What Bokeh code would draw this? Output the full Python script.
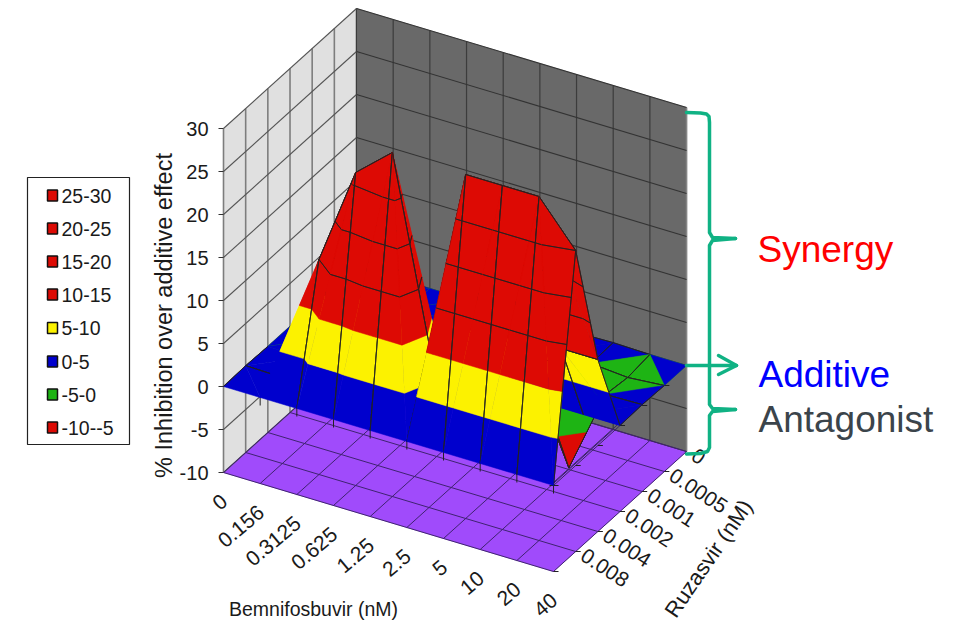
from bokeh.plotting import figure
from bokeh.models import Range1d, ColumnDataSource
from bokeh.core.properties import value
from bokeh.embed import file_html
from bokeh.resources import INLINE
import math

# ---- data ----
bemnifosbuvir = ["0", "0.156", "0.3125", "0.625", "1.25", "2.5", "5", "10", "20", "40"]
ruzasvir = ["", "0.008", "0.004", "0.002", "0.001", "0.0005", "0"]   # front to back
z_ticks = [-10, -5, 0, 5, 10, 15, 20, 25, 30]
legend_labels = ["25-30", "20-25", "15-20", "10-15", "5-10", "0-5", "-5-0", "-10--5"]
row0 = [0, 0, 0, 0, 0, 0, 0, 0, 0, 0]
row1 = [0.1, 0, 15, 26.4, 30, 9, 30, 30, 30, 25]
row2 = [0, 0, 0, 0, 0, 0, 0, 5, 10, 10]
row3 = [0, 0, 0, 0, 0, 0, 0, 0, 0, 0]
row4 = [0, 0, 0, 0, 0, 0, 0, -9.8, 0, 0.1]
row5 = [0, 0, 0, 0, 0, 0, 0, 0, -0.35, 0]
row6 = [0, 0, 0, 0, 0, 0, 0, 0.1, 0, 0]
Z = [row0, row1, row2, row3, row4, row5, row6]

RED, YEL, BLU, GRN = "#dd0a04", "#fcf200", "#0000cd", "#1eb414"
band_cols = [RED, GRN, BLU, YEL, RED, RED, RED, RED]
legend_cols = [RED, RED, RED, RED, YEL, BLU, GRN, RED]
PURPLE, LWALL, BWALL = "#a04bfb", "#e0e0e0", "#696969"
MESH = "#222222"
BRACE = "#10b284"
FONT = value("Liberation Sans")

NC, NR = len(bemnifosbuvir), len(ruzasvir)


def P(c, r, z):
    """oblique projection of the chart's 3D axes on the page"""
    return (223 + 36.67 * c + 22.17 * r, 472 + 11.0 * c - 20.0 * r - 8.6 * (z + 10))


p = figure(width=951, height=625, x_range=Range1d(0, 951), y_range=Range1d(625, 0),
           output_backend="svg", toolbar_location=None, x_axis_location=None, y_axis_location=None,
           min_border=0, outline_line_color=None)
p.grid.visible = False
p.background_fill_color = "white"

# ---- walls and floor ----
cmax, rmax = NC - 1, NR - 1
def poly(pts, color):
    p.patch([q[0] for q in pts], [q[1] for q in pts], fill_color=color, line_color=color, line_width=0.5)

poly([P(0, 0, -10), P(0, 0, 30), P(0, rmax, 30), P(0, rmax, -10)], LWALL)
poly([P(0, rmax, -10), P(0, rmax, 30), P(cmax, rmax, 30), P(cmax, rmax, -10)], BWALL)
poly([P(0, 0, -10), P(cmax, 0, -10), P(cmax, rmax, -10), P(0, rmax, -10)], PURPLE)

def seg(a, b, color, w=1.0):
    p.line([a[0], b[0]], [a[1], b[1]], line_color=color, line_width=w)

for r in range(NR):
    seg(P(0, r, -10), P(0, r, 30), "#7d7d7d", 1.6)
for c in range(NC):
    seg(P(c, rmax, -10), P(c, rmax, 30), "#3c3c3c" if c < cmax else "#858585", 1.2 if c < cmax else 1.6)
for z in z_ticks:
    seg(P(0, 0, z), P(0, rmax, z), "#555555", 1.1)
    seg(P(0, rmax, z), P(cmax, rmax, z), "#333333", 1.1)
    a = P(0, 0, z)
    seg((a[0] - 5, a[1]), a, "#333333", 1.2)
for c in range(NC):
    seg(P(c, 0, -10), P(c, rmax, -10), "#3f2370", 1.0)
for r in range(NR):
    seg(P(0, r, -10), P(cmax, r, -10), "#3f2370", 1.0)
for r in range(NR - 1):
    a = P(cmax, r, -10)
    seg(a, (a[0] + 5, a[1]), "#222222", 1.0)

# faint z=0 outline and ticks of the surface's base
seg(P(cmax, 0, 0), P(cmax, 3, 0), "#3a2a60", 1.0)
seg(P(cmax - 0.07, 0.1, 0), P(cmax - 0.07, 3, 0), "#3a2a60", 1.0)
for r in range(1, 6):
    a = P(cmax, r, 0)
    seg(a, (a[0] + 5, a[1]), "#222222", 1.0)
a = P(cmax, 0, 0)
seg((a[0] - 4, a[1]), (a[0] + 5, a[1]), "#222222", 1.0)
for c in range(1, NC):
    a = P(c, 0, 0)
    seg(a, (a[0], a[1] + 8), "#222222", 1.0)

# ---- surface: painter's order, each cell split along its higher diagonal ----
def clip(tri, lo, hi):
    def cut(poly_, level, keep_above):
        out = []
        for i in range(len(poly_)):
            a, b = poly_[i], poly_[(i + 1) % len(poly_)]
            ina = a[2] >= level if keep_above else a[2] <= level
            inb = b[2] >= level if keep_above else b[2] <= level
            if ina:
                out.append(a)
            if ina != inb:
                t = (level - a[2]) / (b[2] - a[2])
                out.append((a[0] + t * (b[0] - a[0]), a[1] + t * (b[1] - a[1]), level))
        return out
    q = cut(tri, lo, True)
    return cut(q, hi, False) if q else q

def area(pts):
    s = 0
    for i in range(len(pts)):
        x0, y0 = P(*pts[i])
        x1, y1 = P(*pts[(i + 1) % len(pts)])
        s += x0 * y1 - x1 * y0
    return abs(s) / 2

xs, ys, fills, falpha, lcols, lw = [], [], [], [], [], []
def add(pts, fill, alpha, lcol, w):
    scr = [P(*q) for q in pts]
    xs.append([q[0] for q in scr]); ys.append([q[1] for q in scr])
    fills.append(fill); falpha.append(alpha); lcols.append(lcol); lw.append(w)

def add_tri(tri, edges):
    for k in range(len(z_ticks) - 1):
        lo, hi = z_ticks[k], z_ticks[k + 1]
        q = clip(tri, lo, hi)
        if len(q) >= 3 and area(q) > 0.02:
            add(q, band_cols[k], 1.0, band_cols[k], 0.5)
    for lev in (15, 20, 25):
        q = clip(tri, lev, lev)
        pts = []
        for v in q:
            if not any(abs(v[0]-u[0]) + abs(v[1]-u[1]) < 1e-6 for u in pts):
                pts.append(v)
        if len(pts) == 2:
            add(pts, MESH, 0.0, MESH, 0.8)
    for a, b in edges:
        if a[2] != 0 or b[2] != 0:
            add([a, b], MESH, 0.0, MESH, 0.8)

for r in range(NR - 2, -1, -1):
    for c in range(NC - 1):
        v00 = (c, r, Z[r][c]); v10 = (c + 1, r, Z[r][c + 1])
        v01 = (c, r + 1, Z[r + 1][c]); v11 = (c + 1, r + 1, Z[r + 1][c + 1])
        if v00[2] + v11[2] >= v10[2] + v01[2]:
            add_tri([v00, v01, v11], [(v00, v01), (v01, v11)])
            add_tri([v00, v10, v11], [(v00, v10), (v10, v11)])
        else:
            add_tri([v10, v01, v11], [(v01, v11), (v10, v11)])
            add_tri([v00, v10, v01], [(v00, v10), (v00, v01)])

src = ColumnDataSource(dict(x=xs, y=ys, f=fills, a=falpha, l=lcols, w=lw))
p.patches("x", "y", source=src, fill_color="f", fill_alpha="a", line_color="l", line_width="w")

# ---- axis texts ----
def txt(x, y, s, size, color="#1a1a1a", align="left", base="middle", angle=0.0):
    p.text([x], [y], text=[s], text_font=FONT, text_font_size=f"{size}px", text_color=color,
           text_align=align, text_baseline=base, angle=math.radians(angle))

for z in z_ticks:
    a = P(0, 0, z)
    txt(a[0] - 15, a[1], str(z), 20, align="right")
for c, s in enumerate(bemnifosbuvir):
    a = P(c, 0, -10)
    txt(a[0] + 1, a[1] + 26, s, 21, align="right", angle=40)
for r, s in enumerate(ruzasvir):
    if s:
        a = P(cmax, r, -10)
        txt(a[0] + 7, a[1] + 2, s, 21, align="left", angle=-33)

txt(313, 608, "Bemnifosbuvir (nM)", 19.5, align="center")
txt(708, 558, "Ruzasvir (nM)", 22, align="center", angle=55.5)
txt(163, 315, "% Inhibition over additive effect", 23.5, align="center", angle=90)

# ---- legend ----
p.quad(left=[27], right=[129], top=[177], bottom=[444], fill_color="white", line_color="#222222", line_width=1.2)
leg_y = [195, 228, 261, 294, 327.5, 361, 394, 427]
p.rect(x=[52] * len(leg_y), y=leg_y, width=10, height=11, fill_color=legend_cols,
       line_color="#111111", line_width=1.5)
for y, s in zip(leg_y, legend_labels):
    txt(61, y, s, 19.5)

# ---- brace ----
bx = [686, 700, 706, 708.5, 709, 709, 712, 735]
by = [112, 112.5, 113.5, 116, 122, 232, 237, 238]
p.line(bx, by, line_color=BRACE, line_width=3.5, line_cap="round", line_join="round")
bx = [735, 712, 709, 709, 712, 735]
by = [238, 240, 245, 404, 408, 409]
p.line(bx, by, line_color=BRACE, line_width=3.5, line_cap="round", line_join="round")
bx = [735, 712, 709, 709, 707, 700, 686]
by = [409, 411, 415, 447, 451, 453, 453.5]
p.line(bx, by, line_color=BRACE, line_width=3.5, line_cap="round", line_join="round")
p.line([686, 736], [365, 365], line_color=BRACE, line_width=3.5, line_cap="round")
p.line([718, 736, 718], [355, 365, 374], line_color=BRACE, line_width=3.5, line_cap="round", line_join="round")

# ---- annotations ----
txt(757, 249, "Synergy", 37, color="#ff0000")
txt(758, 374, "Additive", 37, color="#0000ff")
txt(758, 419, "Antagonist", 37, color="#3b444b")

open("out.html", "w").write(file_html(p, INLINE))
